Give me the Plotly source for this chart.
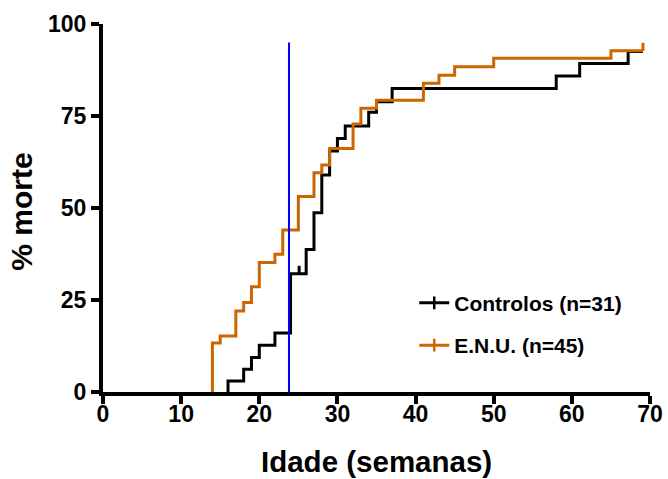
import plotly.graph_objects as go

# ---- data ----
ctrl_t = [16, 18, 19, 20, 22, 24, 26, 27, 28, 29, 30, 31, 34, 35, 37, 58, 61, 67.2]
ctrl_pct = [3.0, 6.2, 9.4, 12.7, 16.0, 32.1, 38.7, 48.7, 59.0, 65.5, 68.9, 72.3, 76.0, 78.9, 82.5, 85.9, 89.3, 92.5]
ctrl_end = 69.1
ctrl_cens_t = [25.1]
ctrl_cens_pct = [32.1]

enu_t = [14, 15, 17, 18, 19, 20, 22, 23, 25, 27, 28, 29, 32, 33, 35, 41, 43, 45, 50, 65]
enu_pct = [13.3, 15.2, 22.0, 24.3, 28.6, 35.2, 37.4, 44.0, 53.1, 59.6, 61.7, 66.2, 72.8, 77.1, 79.3, 83.9, 86.1, 88.4, 90.7, 92.7]
enu_end = 69.1
enu_cens_t = [69.1]
enu_cens_pct = [92.7]

ref_week = [23.8, 23.8]
ref_pct = [0, 95]

x_ticks = [0, 10, 20, 30, 40, 50, 60, 70]
y_ticks = [0, 25, 50, 75, 100]

x_title = "Idade (semanas)"
y_title = "% morte"

BLACK = "#000000"
ORANGE = "#CC6600"
BLUE = "#0000FF"
FONT = "Liberation Sans, Arial, sans-serif"
TICK_H = 2.2


def steps(t, p, end):
    xs = [t[0]] + list(t) + [end]
    ys = [0] + list(p) + [p[-1]]
    return xs, ys


def cens(t, p):
    xs, ys = [], []
    for a, b in zip(t, p):
        xs += [a, a, None]
        ys += [b, b + TICK_H, None]
    return xs, ys


fig = go.Figure()

for name, t, p, end, ct, cp, col, grp in [
    ("Controlos (n=31)", ctrl_t, ctrl_pct, ctrl_end, ctrl_cens_t, ctrl_cens_pct, BLACK, "a"),
    ("E.N.U. (n=45)", enu_t, enu_pct, enu_end, enu_cens_t, enu_cens_pct, ORANGE, "b"),
]:
    xs, ys = steps(t, p, end)
    fig.add_trace(go.Scatter(x=xs, y=ys, mode="lines", line=dict(color=col, width=3, shape="hv"),
                             showlegend=False, hoverinfo="skip"))
    cx, cy = cens(ct, cp)
    fig.add_trace(go.Scatter(x=cx, y=cy, mode="lines", line=dict(color=col, width=3),
                             showlegend=False, hoverinfo="skip"))
    fig.add_trace(go.Scatter(x=[None], y=[None], mode="lines+markers", name=name, legendgroup=grp,
                             line=dict(color=col, width=3),
                             marker=dict(symbol="line-ns", size=9, line=dict(color=col, width=2.5))))

fig.add_trace(go.Scatter(x=ref_week, y=ref_pct, mode="lines", line=dict(color=BLUE, width=2),
                         showlegend=False, hoverinfo="skip"))

axis_common = dict(
    showline=True, linecolor=BLACK, linewidth=4, mirror=False,
    ticks="outside", ticklen=8, tickwidth=4, tickcolor=BLACK,
    showgrid=False, zeroline=False, automargin=False,
    tickfont=dict(family=FONT, size=23, color=BLACK, weight="bold"),
)

fig.update_layout(
    width=668, height=479,
    margin=dict(l=103, r=18, t=24, b=87),
    paper_bgcolor="white", plot_bgcolor="white",
    font=dict(family=FONT, color=BLACK),
    xaxis=dict(range=[0, 70], tickvals=x_ticks, ticktext=[str(v) for v in x_ticks],
               ticklabelstandoff=-10, **axis_common),
    yaxis=dict(range=[0, 100], tickvals=y_ticks, ticktext=[str(v) for v in y_ticks],
               **axis_common),
    legend=dict(x=0.569, y=0.297, xanchor="left", yanchor="top", bgcolor="rgba(0,0,0,0)",
                font=dict(family=FONT, size=21, color=BLACK, weight="bold"),
                tracegroupgap=12),
    showlegend=True,
    annotations=[
        dict(text=x_title, xref="paper", yref="paper", x=0.5, y=-0.19,
             xanchor="center", yanchor="middle", showarrow=False,
             font=dict(family=FONT, size=29.5, color=BLACK, weight="bold")),
        dict(text=y_title, xref="paper", yref="paper", x=-0.148, y=0.49,
             xanchor="center", yanchor="middle", textangle=-90, showarrow=False,
             font=dict(family=FONT, size=30, color=BLACK, weight="bold")),
    ],
)

fig.write_html("out.html")
